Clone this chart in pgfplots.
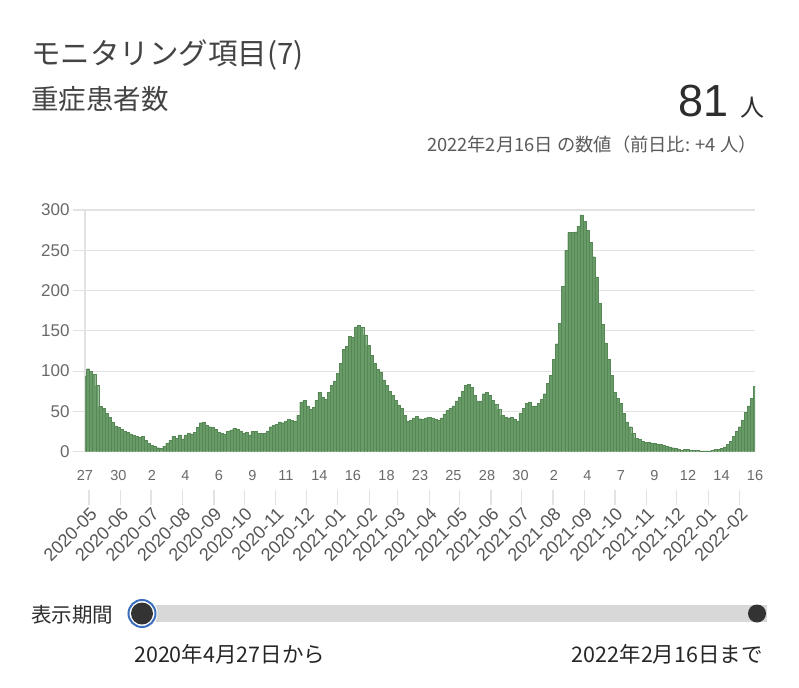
\documentclass[border=0pt]{standalone}
\usepackage{pgfplots}
\pgfplotsset{compat=1.18}
\usepackage{fontspec}
\setmainfont{Liberation Sans}
\newfontfamily\jp{Noto Sans CJK JP}
\definecolor{barfill}{RGB}{104,155,104}
\definecolor{baredge}{RGB}{86,136,86}
\definecolor{gridc}{RGB}{226,226,226}
\definecolor{ticktext}{RGB}{105,105,105}
\definecolor{monthtext}{RGB}{85,85,85}
\definecolor{titlec}{RGB}{68,68,68}
\definecolor{subc}{RGB}{90,90,90}
\definecolor{darkc}{RGB}{45,45,45}
\definecolor{sliderc}{RGB}{216,216,216}
\definecolor{knob}{RGB}{51,51,51}
\definecolor{ring}{RGB}{60,110,190}
\begin{document}
\begin{tikzpicture}[x=1pt,y=1pt]
\path[fill=white] (0,0) rectangle (799,-687);
% header
\node[anchor=west, inner sep=0, text=titlec, font=\jp\fontsize{29.5}{33}\selectfont] at (31,-55) {モニタリング項目(7)};
\node[anchor=west, inner sep=0, text=titlec, font=\jp\fontsize{27.5}{31}\selectfont] at (31,-99) {重症患者数};
\node[anchor=base east, inner sep=0, text=darkc, font=\fontsize{45}{50}\selectfont] at (729,-117) {81};
\node[anchor=base east, inner sep=0, text=darkc, font=\jp\fontsize{24}{27}\selectfont] at (765,-117) {人};
\node[anchor=east, inner sep=0, text=subc, font=\jp\fontsize{18.3}{21}\selectfont] at (757,-145) {2022年2月16日 の数値（前日比: +4 人）};
% main chart
\begin{axis}[
  at={(85pt,-451.7pt)}, anchor=south west, scale only axis,
  width=670pt, height=241.7pt,
  xmin=0, xmax=660, ymin=0, ymax=300, clip=true,
  axis lines*=left,
  axis line style={draw=gridc, line width=1.2pt},
  ymajorgrids, grid style={draw=gridc, line width=1.2pt},
  ytick={0,50,100,150,200,250,300},
  major tick length=12pt, tick align=outside,
  ytick style={draw=gridc, line width=1.2pt},
  xtick style={draw=none},
  xtick={0,33,66,99,132,165,198,231,264,297,330,363,396,429,462,495,528,561,594,627,660},
  xticklabels={27,30,2,4,6,9,11,14,16,18,23,25,28,30,2,4,7,9,12,14,16},
  /pgf/number format/assume math mode=true,
  yticklabel style={font=\fontsize{17}{20}\selectfont, text=ticktext},
  xticklabel style={font=\fontsize{14.5}{17}\selectfont, text=ticktext, anchor=base, yshift=-17pt},
]
\addplot[ybar, bar width=3, fill=barfill, draw=baredge, line width=0.3pt] coordinates {
(0,94)(3,103)(6,100)(9,96)(12,82)(15,56)(18,54)(21,48)(24,43)(27,37)
(30,32)(33,30)(36,28)(39,26)(42,24)(45,22)(48,20)(51,19)(54,18)(57,19)
(60,14)(63,10)(66,8)(69,7)(72,5)(75,4)(78,7)(81,11)(84,14)(87,19)
(90,17)(93,21)(96,16)(99,21)(102,23)(105,22)(108,24)(111,30)(114,36)(117,37)
(120,33)(123,31)(126,30)(129,28)(132,24)(135,23)(138,22)(141,25)(144,27)(147,29)
(150,28)(153,26)(156,23)(159,24)(162,21)(165,25)(168,25)(171,23)(174,23)(177,23)
(180,26)(183,31)(186,33)(189,34)(192,37)(195,36)(198,38)(201,40)(204,39)(207,38)
(210,45)(213,62)(216,64)(219,57)(222,53)(225,55)(228,64)(231,74)(234,68)(237,65)
(240,74)(243,82)(246,88)(249,97)(252,110)(255,127)(258,131)(261,143)(264,142)(267,155)
(270,157)(273,154)(276,145)(279,132)(282,120)(285,110)(288,102)(291,99)(294,89)(297,82)
(300,75)(303,70)(306,64)(309,58)(312,54)(315,45)(318,38)(321,39)(324,42)(327,44)
(330,41)(333,40)(336,42)(339,43)(342,42)(345,40)(348,39)(351,42)(354,47)(357,51)
(360,54)(363,57)(366,63)(369,68)(372,75)(375,82)(378,84)(381,80)(384,70)(387,63)
(390,63)(393,72)(396,74)(399,70)(402,64)(405,59)(408,53)(411,45)(414,43)(417,42)
(420,43)(423,40)(426,38)(429,48)(432,54)(435,60)(438,62)(441,57)(444,57)(447,60)
(450,65)(453,72)(456,85)(459,95)(462,115)(465,134)(468,159)(471,205)(474,250)(477,272)
(480,272)(483,273)(486,280)(489,294)(492,286)(495,275)(498,260)(501,242)(504,217)(507,184)
(510,158)(513,135)(516,115)(519,95)(522,74)(525,66)(528,60)(531,48)(534,37)(537,31)
(540,23)(543,17)(546,15)(549,13)(552,12)(555,12)(558,11)(561,10)(564,9)(567,9)
(570,8)(573,7)(576,6)(579,5)(582,4)(585,3)(588,2)(591,3)(594,3)(597,2)
(600,2)(603,2)(606,1)(609,1)(612,1)(615,1)(618,2)(621,3)(624,3)(627,4)
(630,6)(633,9)(636,13)(639,19)(642,25)(645,31)(648,39)(651,49)(654,57)(657,66)
(660,81)
};
\end{axis}
% month axis
\begin{axis}[
  at={(85pt,-490pt)}, anchor=south west, scale only axis,
  width=670pt, height=10pt,
  xmin=0, xmax=660, ymin=0, ymax=1,
  axis x line*=bottom, hide y axis,
  x axis line style={draw=none},
  xtick={4,35,65,96,127,157,188,218,249,280,308,339,369,400,430,461,492,522,553,583,614,645},
  xticklabels={2020-05,2020-06,2020-07,2020-08,2020-09,2020-10,2020-11,2020-12,2021-01,2021-02,2021-03,2021-04,2021-05,2021-06,2021-07,2021-08,2021-09,2021-10,2021-11,2021-12,2022-01,2022-02},
  tick align=outside, major tick length=15pt,
  xtick style={draw=gridc, line width=1.2pt},
  xticklabel style={font=\fontsize{18}{21}\selectfont, text=monthtext, rotate=45, anchor=north east, inner sep=1pt},
]
\addplot[draw=none] coordinates {(0,0)};
\end{axis}
% slider
\fill[sliderc] (142,-605) rectangle (767,-622);
\fill[knob] (757,-613.5) circle (9);
\fill[white] (142,-613.5) circle (15.5);
\draw[ring, line width=2pt] (142,-613.5) circle (13.5);
\fill[knob] (142,-613.5) circle (11);
\node[anchor=west, inner sep=0, text=darkc, font=\jp\fontsize{20.5}{24}\selectfont] at (31,-615) {表示期間};
\node[anchor=west, inner sep=0, text=black!85, font=\jp\fontsize{21.5}{25}\selectfont] at (134,-654) {2020年4月27日から};
\node[anchor=east, inner sep=0, text=black!85, font=\jp\fontsize{21.5}{25}\selectfont] at (763,-654) {2022年2月16日まで};
\end{tikzpicture}
\end{document}
